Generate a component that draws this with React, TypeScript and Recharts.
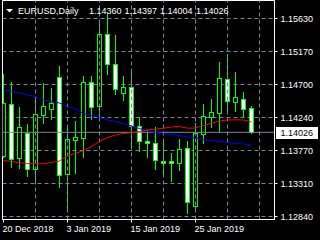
import React from 'react';
import {
  ComposedChart,
  Bar,
  Line,
  XAxis,
  YAxis,
  CartesianGrid,
  ReferenceLine,
  ReferenceArea,
} from 'recharts';

// ---- data ----
const dates = [
  '20 Dec 2018', '21 Dec 2018', '24 Dec 2018', '26 Dec 2018', '27 Dec 2018', '28 Dec 2018', '31 Dec 2018',
  '2 Jan 2019', '3 Jan 2019', '4 Jan 2019', '7 Jan 2019', '8 Jan 2019', '9 Jan 2019', '10 Jan 2019',
  '11 Jan 2019', '14 Jan 2019', '15 Jan 2019', '16 Jan 2019', '17 Jan 2019', '18 Jan 2019', '21 Jan 2019',
  '22 Jan 2019', '23 Jan 2019', '24 Jan 2019', '25 Jan 2019', '28 Jan 2019', '29 Jan 2019', '30 Jan 2019',
  '31 Jan 2019', '1 Feb 2019', '4 Feb 2019', '5 Feb 2019',
];
const opens = [
  1.13685, 1.14414, 1.13653, 1.14005, 1.13498, 1.14259, 1.14352, 1.14803, 1.13432, 1.13911, 1.13935,
  1.14724, 1.14390, 1.15405, 1.14978, 1.14569, 1.14654, 1.14108, 1.13901, 1.13864, 1.13619, 1.13619,
  1.13583, 1.13794, 1.12981, 1.13995, 1.14231, 1.14287, 1.14766, 1.14442, 1.14484, 1.14360,
];
const highs = [
  1.14841, 1.14724, 1.14372, 1.14132, 1.14517, 1.14710, 1.14639, 1.14954, 1.14098, 1.14183, 1.14813,
  1.14813, 1.15592, 1.15696, 1.15390, 1.14813, 1.14887, 1.14231, 1.14052, 1.14090, 1.13911, 1.13732,
  1.13921, 1.13901, 1.14155, 1.14418, 1.14489, 1.15014, 1.15123, 1.14873, 1.14583, 1.14397,
];
const lows = [
  1.13671, 1.13535, 1.13521, 1.13404, 1.13347, 1.14146, 1.14203, 1.13244, 1.12910, 1.13442, 1.13676,
  1.14203, 1.14217, 1.14841, 1.14555, 1.14475, 1.13794, 1.13760, 1.13676, 1.13498, 1.13446, 1.13337,
  1.13488, 1.12878, 1.12932, 1.13873, 1.14090, 1.14042, 1.14296, 1.14324, 1.14231, 1.14004,
];
const closes = [
  1.14432, 1.13639, 1.14090, 1.13498, 1.14273, 1.14390, 1.14428, 1.13418, 1.13921, 1.13949, 1.14724,
  1.14380, 1.15405, 1.14978, 1.14625, 1.14654, 1.14108, 1.13893, 1.13864, 1.13629, 1.13583, 1.13583,
  1.13780, 1.13042, 1.14014, 1.14249, 1.14301, 1.14780, 1.14460, 1.14521, 1.14344, 1.14026,
];
const maRed = [
  1.13629, 1.13615, 1.13597, 1.13587, 1.13583, 1.13583, 1.13601, 1.13622, 1.13700, 1.13728, 1.13770,
  1.13826, 1.13897, 1.13953, 1.13988, 1.14010, 1.14019, 1.14038, 1.14059, 1.14073, 1.14084, 1.14101,
  1.14108, 1.14084, 1.14087, 1.14122, 1.14155, 1.14186, 1.14200, 1.14203, 1.14200, 1.14172,
];
const maBlue = [
  1.14625, 1.14601, 1.14580, 1.14552, 1.14531, 1.14484, 1.14460, 1.14439, 1.14390, 1.14355, 1.14291,
  1.14263, 1.14235, 1.14200, 1.14179, 1.14150, 1.14115, 1.14080, 1.14038, 1.14028, 1.14010, 1.13995,
  1.13981, 1.13960, 1.13949, 1.13925, 1.13911, 1.13897, 1.13883, 1.13869, 1.13862, 1.13855,
];
const priceTicks = [1.1284, 1.13305, 1.1377, 1.14235, 1.147, 1.15165, 1.1563];
const priceLabels = ['1.12840', '1.13310', '1.13770', '1.14240', '1.14700', '1.15170', '1.15630'];
const dateTickIdx = [0, 8, 16, 24];
const gridIdx = [4, 8, 12, 16, 20, 24, 28, 32];
const titleSymbol = 'EURUSD,Daily';
const titleValues = ['1.14360', '1.14397', '1.14004', '1.14026'];
const lastPrice = 1.14026;
const lastLabel = '1.14026';

const X_DOMAIN: [number, number] = [-0.125, 33.875];
const Y_DOMAIN: [number, number] = [1.12797727, 1.15883636];

const rows = dates.map((d, i) => ({
  i,
  date: d,
  open: opens[i],
  high: highs[i],
  low: lows[i],
  close: closes[i],
  range: [lows[i], highs[i]],
  maRed: maRed[i],
  maBlue: maBlue[i],
}));

const FONT = '"Liberation Sans", Arial, sans-serif';
const LIME = '#00ff00';
const GRID = '#778899';

const Candle = (props: any) => {
  const { x, y, width, height, payload } = props;
  if (!payload || x == null) return null;
  const { open, high, low, close } = payload;
  const top0 = Math.min(y, y + height);
  const h = Math.abs(height);
  const span = high - low || 1e-9;
  const py = (v: number) => top0 + ((high - v) / span) * h;
  const cx = Math.floor(x + width / 2) + 0.5;
  const bodyTop = Math.floor(py(Math.max(open, close))) + 0.5;
  const bodyBot = Math.floor(py(Math.min(open, close))) + 0.5;
  const bull = close >= open;
  return (
    <g>
      <line x1={cx} x2={cx} y1={Math.floor(top0)} y2={Math.floor(top0 + h) + 1} stroke={LIME} strokeWidth={1} />
      <rect
        x={cx - 2}
        y={bodyTop}
        width={4}
        height={Math.max(bodyBot - bodyTop, 0)}
        fill={bull ? '#000000' : '#ffffff'}
        stroke={LIME}
        strokeWidth={1}
      />
    </g>
  );
};

const DateTick = (props: any) => {
  const { x, y, payload } = props;
  return (
    <text x={x - 1} y={y + 7.5} fill="#ffffff" fontSize={9} fontFamily={FONT} textAnchor="start">
      {dates[payload.value]}
    </text>
  );
};

const PriceTag = (props: any) => {
  const vb = props.viewBox || {};
  const left = vb.x + vb.width + 1.5;
  const yy = Math.floor(vb.y);
  return (
    <g>
      <rect x={left} y={yy - 5} width={42} height={12} fill="#ffffff" />
      <text x={left + 4.5} y={yy + 4} fill="#000000" fontSize={9} fontFamily={FONT}>
        {lastLabel}
      </text>
    </g>
  );
};

export default function App() {
  return (
    <div style={{ position: 'fixed', left: 0, top: 0, width: 320, height: 240, background: '#000000', overflow: 'hidden' }}>
      <ComposedChart
        width={320}
        height={240}
        data={rows}
        margin={{ top: 0.5, right: 0, bottom: 0, left: 2.5 }}
      >
        <CartesianGrid vertical={false} stroke={GRID} strokeDasharray="4 3" />
        {gridIdx.map((g) => (
          <ReferenceLine key={g} x={g} stroke={GRID} strokeDasharray="4 3" />
        ))}
        <ReferenceLine y={lastPrice} stroke={GRID} strokeWidth={1} label={<PriceTag />} />
        <XAxis
          dataKey="i"
          type="number"
          domain={X_DOMAIN}
          allowDataOverflow
          ticks={dateTickIdx}
          interval={0}
          height={20.5}
          tickSize={3}
          tickMargin={2}
          tickLine={{ stroke: '#ffffff' }}
          axisLine={{ stroke: '#ffffff' }}
          tick={<DateTick />}
        />
        <YAxis
          orientation="right"
          type="number"
          domain={Y_DOMAIN}
          allowDataOverflow
          ticks={priceTicks}
          interval={0}
          width={45.5}
          tickSize={3}
          tickMargin={3}
          tickLine={{ stroke: '#ffffff' }}
          axisLine={{ stroke: '#ffffff' }}
          tick={{ fill: '#ffffff', fontSize: 9, fontFamily: FONT }}
          tickFormatter={(v: number) => priceLabels[priceTicks.indexOf(v)] ?? ''}
        />
        <Line dataKey="maBlue" stroke="#0000ff" strokeWidth={1} dot={false} isAnimationActive={false} type="linear" />
        <Line dataKey="maRed" stroke="#ff0000" strokeWidth={1} dot={false} isAnimationActive={false} type="linear" />
        <Bar dataKey="range" barSize={5} shape={Candle} isAnimationActive={false} />
        <ReferenceArea
          x1={X_DOMAIN[0]}
          x2={X_DOMAIN[1]}
          y1={Y_DOMAIN[0]}
          y2={Y_DOMAIN[1]}
          fill="none"
          stroke="#ffffff"
          ifOverflow="visible"
        />
      </ComposedChart>
      <svg width={320} height={20} style={{ position: 'absolute', left: 0, top: 0, pointerEvents: 'none' }}>
        <polygon points="6,9 13,9 9.5,12.5" fill="#ffffff" />
        <text y={14} fill="#ffffff" fontSize={9} fontFamily={FONT}>
          <tspan x={18}>{titleSymbol}</tspan>
          <tspan x={89}>{titleValues[0]}</tspan>
          <tspan x={124.5}>{titleValues[1]}</tspan>
          <tspan x={160}>{titleValues[2]}</tspan>
          <tspan x={196}>{titleValues[3]}</tspan>
        </text>
      </svg>
    </div>
  );
}
